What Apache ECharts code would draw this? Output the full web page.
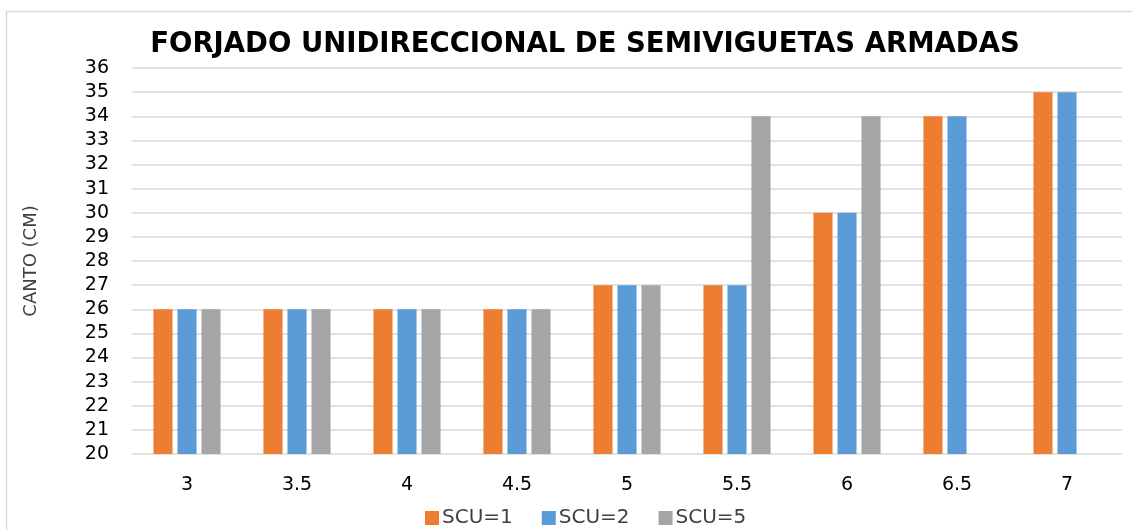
<!DOCTYPE html>
<html>
<head>
<meta charset="utf-8">
<script src="https://cdn.jsdelivr.net/npm/echarts@6/dist/echarts.min.js"></script>
<style>
  html, body { margin: 0; padding: 0; background: #fff; }
  #container { width: 1132px; height: 530px; }
</style>
</head>
<body>
<div id="container"></div>
<script>
// span (m) on the x axis
var luces = ['3', '3.5', '4', '4.5', '5', '5.5', '6', '6.5', '7'];
var yTicks = [20, 36];
// canto (cm) per sobrecarga
var scu1 = [26, 26, 26, 26, 27, 27, 30, 34, 35];
var scu2 = [26, 26, 26, 26, 27, 27, 30, 34, 35];
var scu5 = [26, 26, 26, 26, 27, 34, 34, null, null];

var fuente = 'DejaVu Sans';
var dom = document.getElementById('container');
var myChart = echarts.init(dom);

var serie = (name, data, color) => {
    return {
        name: name,
        type: 'bar',
        data: data,
        barGap: '26%',
        barCategoryGap: '39%',
        itemStyle: { color: color }
    };
};

var option = {
    animation: false,
    textStyle: { fontFamily: fuente },
    title: {
        text: 'FORJADO UNIDIRECCIONAL DE SEMIVIGUETAS ARMADAS',
        left: 580,
        textAlign: 'center',
        top: 26,
        textStyle: { fontFamily: fuente, fontWeight: 'bold', fontSize: 27.5, color: '#000' }
    },
    graphic: [{
        type: 'rect',
        shape: { x: 6.5, y: 11.5, width: 1140, height: 540 },
        style: { fill: 'none', stroke: '#d9d9d9', lineWidth: 1.5 },
        silent: true
    }],
    legend: {
        top: 503,
        left: 420,
        itemWidth: 14,
        itemHeight: 14,
        itemGap: 29,
        icon: 'rect',
        textStyle: { fontSize: 20, color: '#404040', fontFamily: fuente, padding: [0, 0, 0, -2] }
    },
    grid: { left: 132, right: 10, top: 68, bottom: 76 },
    xAxis: {
        type: 'category',
        data: luces,
        axisTick: { show: false },
        axisLine: { show: false },
        axisLabel: { fontSize: 19, color: '#000', margin: 22 }
    },
    yAxis: {
        type: 'value',
        min: yTicks[0],
        max: yTicks[1],
        interval: 1,
        name: 'CANTO (CM)',
        nameLocation: 'middle',
        nameGap: 92,
        nameTextStyle: { fontSize: 18, color: '#404040', fontFamily: fuente },
        axisLabel: { fontSize: 19, color: '#000', margin: 23 },
        splitLine: { lineStyle: { color: '#d9d9d9', width: 1.5 } }
    },
    series: [
        serie('SCU=1', scu1, '#ED7D31'),
        serie('SCU=2', scu2, '#5B9BD5'),
        serie('SCU=5', scu5, '#A5A5A5')
    ]
};
myChart.setOption(option);
</script>
</body>
</html>
